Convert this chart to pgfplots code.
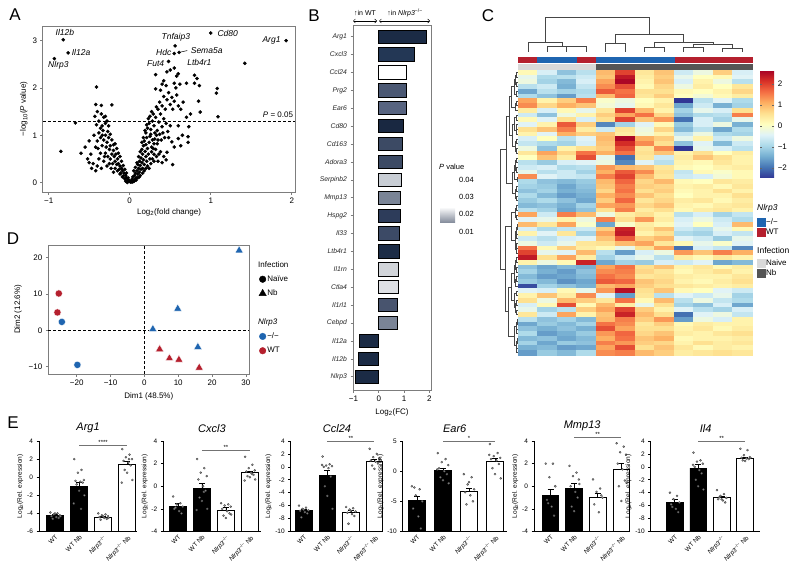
\documentclass[border=0pt]{standalone}
\usepackage{fontspec}
\setmainfont{Liberation Sans}
\usepackage{pgfplots}
\usepackage{pgfplotstable}
\pgfplotsset{compat=1.18}
\usetikzlibrary{arrows.meta}

\definecolor{myblue}{RGB}{31,101,176}
\definecolor{myred}{RGB}{181,32,46}
\definecolor{framegray}{RGB}{125,125,125}
\definecolor{naivegray}{RGB}{217,217,217}
\definecolor{nbgray}{RGB}{85,85,85}
\definecolor{dendrocol}{RGB}{70,70,70}
\definecolor{bA}{RGB}{27,43,69}
\definecolor{bB}{RGB}{35,55,85}
\definecolor{bC}{RGB}{75,88,115}
\definecolor{bD}{RGB}{88,100,128}
\definecolor{bE}{RGB}{25,40,65}
\definecolor{bF}{RGB}{60,74,100}
\definecolor{bG}{RGB}{200,205,212}
\definecolor{bH}{RGB}{122,132,150}
\definecolor{bI}{RGB}{45,60,90}
\definecolor{bJ}{RGB}{60,74,102}
\definecolor{bK}{RGB}{28,44,70}
\definecolor{bL}{RGB}{210,213,218}
\definecolor{bM}{RGB}{222,224,228}
\definecolor{bN}{RGB}{72,84,110}
\definecolor{pbot}{RGB}{135,143,158}

\newcommand{\myfs}[1]{\fontsize{#1}{#1}\selectfont}

\pgfplotsset{
  /pgf/number format/assume math mode=true,
  grayframe/.style={scale only axis, anchor=north west,
    axis line style={draw=framegray, line width=1pt},
    tick style={draw=framegray, line width=0.6pt},
    tick align=outside, major tick length=2.5pt, tick pos=left,
    ticklabel style={font=\myfs{8}, text=black},
    label style={font=\myfs{8}}},
  ebase/.style={scale only axis, anchor=south west, height=90.5pt,
    axis x line*=bottom, axis y line*=left,
    axis line style={line width=0.8pt, draw=black},
    ytick style={draw=black, line width=0.6pt}, xtick style={draw=none},
    tick align=outside, major tick length=2.5pt,
    yticklabel style={font=\myfs{6.5}},
    xtick={1,2,3,4},
    xticklabels={WT, WT Nb, \textit{Nlrp3}\textsuperscript{−/−}, \textit{Nlrp3}\textsuperscript{−/−} Nb},
    xticklabel style={rotate=45, anchor=north east, inner sep=0.5pt, font=\myfs{6.3}},
    ylabel={Log\textsubscript{2}(Rel. expression)},
    ylabel style={font=\myfs{6.5}, yshift=-3pt},
    title style={font=\myfs{11}\itshape, yshift=-1pt},
    clip=false},
  blackbar/.style={ybar, bar shift=0pt, bar width=16.5pt, fill=black, draw=black, line width=0.8pt,
    error bars/.cd, y dir=plus, y explicit, error bar style={line width=0.7pt, black}, error mark options={rotate=90, mark size=3pt, line width=0.7pt, black}},
  whitebar/.style={ybar, bar shift=0pt, bar width=16.5pt, fill=white, draw=black, line width=0.8pt,
    error bars/.cd, y dir=plus, y explicit, error bar style={line width=0.7pt, black}, error mark options={rotate=90, mark size=3pt, line width=0.7pt, black}},
  edots/.style={only marks, mark=*, mark size=1.05pt, mark options={fill=black!40, draw=black!75, line width=0.3pt}},
  sigline/.style={black!55, line width=0.8pt},
  dendro/.style={dendrocol, line width=0.45pt},
  bbar/.style={xbar, bar shift=0pt, bar width=13.3pt, draw=black, line width=0.9pt, fill=#1},
}

\pgfplotstableread{
c1 c2 c3 c4 c5 c6 c7 c8 c9 c10 c11 c12
0.2 -0.5 -1.2 -0.8 1.0 2.0 0.5 0.9 -0.6 -0.2 0.8 -0.5
-0.3 -0.9 -0.8 -0.6 0.9 2.4 0.4 0.8 -0.3 0.1 0.2 -0.4
-0.2 -1.0 -1.3 -0.5 1.2 2.6 0.3 0.9 -0.5 0.3 -0.2 -0.8
-0.8 -0.6 -1.4 -0.7 1.4 1.9 0.2 0.7 -0.2 0.4 0.1 0.5
-1.5 -0.8 -1.0 -0.9 1.8 1.6 0.6 0.6 0.2 0.1 0.3 0.7
-0.9 -1.2 -1.6 -0.8 1.0 1.7 0.5 0.8 0.1 -0.1 0.2 0.4
1.2 0.3 0.8 1.5 0.0 -0.2 0.1 0.3 -2.5 -0.8 -0.4 -0.9
1.4 0.7 1.1 0.9 -0.1 -0.3 0.2 0.5 -1.5 -0.6 -1.4 -1.0
0.4 -0.5 0.2 -0.3 0.5 2.0 1.0 0.3 -1.0 -0.3 -0.5 0.6
-0.6 -1.2 -0.2 0.3 0.8 1.2 1.6 0.7 -1.2 -0.9 -0.8 1.5
0.2 -0.4 0.6 -0.5 0.6 2.0 0.9 1.3 -2.0 -0.5 -1.0 -0.3
-0.4 0.3 1.8 0.8 -1.8 -1.0 -0.4 0.2 -1.1 -0.5 -0.2 -1.4
0.6 0.9 1.5 0.4 -0.6 0.5 -0.2 0.7 -1.3 -0.8 -1.5 -0.9
0.3 -0.4 1.1 0.8 0.9 0.4 -0.1 0.3 -0.7 -0.2 -0.9 -1.0
-0.5 0.1 -0.8 -0.4 1.0 2.6 1.1 0.8 -0.3 0.3 -0.6 -0.2
-0.7 -0.9 -1.0 -0.5 0.9 2.2 1.4 0.6 -1.2 -0.4 -1.3 -0.6
-0.2 -1.2 0.3 0.6 0.8 1.9 0.5 1.4 -2.5 -0.3 -0.5 -0.8
0.5 1.2 0.7 1.6 1.1 1.6 0.6 0.9 0.3 0.6 0.1 0.4
0.1 0.9 0.4 1.9 -0.3 -2.0 0.5 -0.6 0.4 0.9 0.6 0.3
-0.8 -1.1 -0.5 -0.4 -0.2 -1.8 -0.4 -0.8 0.3 0.2 0.5 0.3
-0.6 -0.5 -0.9 -0.8 1.3 1.0 0.9 0.5 0.2 0.1 0.3 0.4
-0.3 -0.8 -0.6 -1.0 1.1 1.8 1.4 0.6 -0.7 0.2 0.0 0.2
1.4 -0.4 -0.6 -0.7 1.5 2.0 1.0 0.5 -0.6 -0.5 -0.1 0.2
-0.9 -1.2 -1.3 -1.1 1.0 1.7 0.7 1.0 0.2 0.1 0.5 0.4
-1.0 -1.1 -1.5 -1.2 0.9 1.5 0.8 0.7 0.3 0.4 0.2 0.5
-1.2 -1.0 -1.4 -1.3 0.7 1.6 0.6 0.8 0.2 0.3 0.6 0.3
-0.9 -1.3 -1.6 -1.4 1.1 1.4 0.9 0.6 0.1 0.3 0.3 0.6
-1.1 -0.9 -1.2 -1.5 0.8 1.7 0.5 0.7 0.4 0.5 0.2 0.4
-1.3 -1.2 -1.4 -1.0 1.2 1.3 0.7 0.9 0.3 0.2 0.4 0.5
-0.8 -1.0 -1.5 -1.2 0.6 1.5 0.4 0.6 0.2 0.4 0.5 0.3
1.2 -0.6 1.5 1.0 -0.2 0.4 0.6 0.3 -0.8 -0.5 -1.0 -0.7
-0.4 -0.3 0.3 -0.2 1.5 0.6 1.3 0.4 -0.5 -0.2 -0.6 -0.9
1.0 0.5 1.2 0.0 -1.5 0.0 0.4 0.2 -0.4 0.1 -0.5 1.0
-0.5 -0.9 -0.7 -0.6 0.8 2.3 0.5 0.9 -0.6 -0.8 -0.3 0.2
0.3 -0.4 0.5 -1.0 1.2 2.4 0.3 0.6 -0.9 -1.0 -0.5 -0.7
-0.6 -0.8 -0.5 -0.4 0.9 1.8 0.8 1.0 -0.4 -0.6 -1.1 -0.3
-0.2 -0.6 -0.3 0.5 0.6 1.0 1.2 0.5 0.2 -0.3 0.0 -0.4
1.6 0.2 0.8 0.4 0.2 -0.3 0.6 1.2 -2.0 -0.5 -0.7 -1.8
2.0 -0.3 -0.4 1.0 -0.8 -1.6 -0.5 -0.2 1.3 0.9 1.5 1.1
2.4 0.6 1.2 0.4 -1.0 -0.6 -0.3 -0.8 0.4 0.2 0.5 0.3
0.3 -0.2 0.2 2.3 -1.5 -1.0 -1.1 -0.5 -0.6 -0.4 -1.5 -1.3
-1.2 -1.5 -1.3 -1.4 1.2 1.6 0.6 0.9 0.3 0.5 0.2 0.4
-1.0 -1.4 -1.6 -1.2 1.4 1.5 0.7 0.5 0.2 0.4 0.6 0.3
-1.3 -1.6 -1.5 -1.3 1.6 1.4 0.5 0.6 0.4 0.3 0.3 0.5
-1.1 -1.3 -1.7 -1.5 1.8 1.7 0.9 0.7 0.3 0.2 0.4 0.6
-2.3 -1.0 -1.2 -1.4 1.0 1.2 0.8 0.6 0.5 0.4 0.3 0.4
-0.4 -0.5 0.2 -0.3 1.3 2.5 0.6 0.9 0.2 0.1 -0.4 -0.6
0.3 0.9 0.4 1.4 -0.4 -1.6 0.5 -0.8 -0.4 -0.6 -0.3 -1.0
0.6 -0.2 1.0 0.8 0.5 1.6 0.2 1.0 -0.8 -0.2 -0.7 -0.9
-0.5 0.2 1.9 0.2 1.0 0.4 -0.3 0.6 -1.0 -1.2 -0.5 -1.5
-0.3 -1.0 -0.8 0.8 1.2 2.0 0.8 0.3 -0.4 -0.8 -1.0 -0.5
0.5 -0.6 1.2 0.3 0.9 2.3 1.0 0.6 -2.0 -0.4 -0.2 -0.7
-0.8 -1.2 -1.0 -1.3 1.0 1.5 0.8 1.3 -1.6 -0.2 -0.5 0.3
-1.5 -1.1 -1.3 -1.0 1.6 1.4 0.5 0.8 0.2 0.4 0.3 0.3
-1.2 -1.4 -1.2 -1.4 1.9 1.2 0.6 0.6 0.3 0.5 0.2 0.4
-0.9 -1.6 -1.4 -1.1 1.3 1.7 0.7 0.9 0.4 0.3 0.5 0.6
-1.3 -1.2 -1.5 -1.3 1.1 1.6 0.9 1.1 0.2 0.3 0.3 0.4
-1.0 -1.5 -1.1 -1.2 1.5 1.3 0.8 0.7 0.3 0.6 0.4 0.5
-1.4 -1.3 -1.6 -1.5 1.2 1.9 0.6 0.9 0.5 0.2 0.4 0.3
-1.6 -1.1 -1.3 -0.9 1.4 1.5 1.0 0.8 0.4 0.5 0.6 0.5
}\heatdata

\begin{document}
\begin{tikzpicture}
\path[use as bounding box] (0pt,0pt) rectangle (800pt,-570pt);

% panel letters
\node[font=\myfs{17}] at (15pt,-15pt) {A};
\node[font=\myfs{17}] at (314pt,-16pt) {B};
\node[font=\myfs{17}] at (488pt,-16pt) {C};
\node[font=\myfs{17}] at (13pt,-239pt) {D};
\node[font=\myfs{17}] at (13pt,-423pt) {E};

% ================= A =================
\begin{axis}[grayframe, at={(43pt,-26pt)}, width=252pt, height=166pt,
  xmin=-1.07, xmax=2.04, ymin=-0.2, ymax=3.31,
  xtick={-1,0,1,2}, xticklabels={−1,0,1,2}, ytick={0,1,2,3},
  xlabel={Log\textsubscript{2}(fold change)}, ylabel={−log\textsubscript{10}(\textit{P} value)},
  xlabel style={yshift=2pt}, ylabel style={yshift=-2pt}, clip=false]
\addplot[only marks, mark=*, mark size=1.6pt, black] coordinates {
(0.01,0.01)(0.02,0.04)(0.03,0.07)(0.05,0.05)(0.04,0.12)(0.06,0.15)(0.08,0.1)(0.07,0.2)(0.1,0.18)(0.09,0.25)(0.12,0.22)(0.11,0.3)(0.14,0.28)
(0.02,0.02)(0.03,0.01)(0.05,0.02)(0.06,0.04)(0.08,0.05)(-0.03,0.0)(0.0,0.03)(-0.05,0.03)(0.07,0.08)(0.04,0.03)
(0.1,0.38)(0.12,0.45)(0.13,0.36)(0.15,0.42)(0.14,0.52)(0.16,0.6)(0.17,0.48)(0.18,0.38)(0.2,0.55)(0.21,0.45)(0.19,0.66)(0.23,0.6)(0.25,0.5)(0.22,0.35)(0.26,0.4)
(0.15,0.7)(0.17,0.78)(0.18,0.88)(0.2,0.8)(0.21,0.95)(0.22,0.72)(0.24,0.85)(0.25,0.98)(0.27,0.75)(0.28,0.9)(0.3,0.82)(0.32,0.7)(0.26,1.02)(0.3,0.6)(0.35,0.9)(0.33,1.0)
(0.2,1.05)(0.22,1.15)(0.24,1.25)(0.26,1.12)(0.28,1.3)(0.3,1.2)(0.32,1.38)(0.34,1.1)(0.36,1.28)(0.38,1.45)(0.29,1.45)(0.4,1.18)(0.42,1.35)(0.35,1.55)(0.31,1.05)(0.45,1.25)
(0.33,1.6)(0.37,1.7)(0.4,1.62)(0.42,1.82)(0.44,1.55)(0.46,1.75)(0.48,1.9)(0.5,1.65)(0.52,1.8)(0.38,1.95)(0.45,2.05)(0.55,1.72)(0.58,1.85)(0.6,1.62)(0.53,1.55)
(0.32,1.98)(0.32,2.28)(0.46,2.34)(0.5,2.38)(0.55,2.42)(0.48,2.56)(0.55,2.1)(0.57,2.0)(0.62,2.08)(0.7,2.1)(0.8,2.1)(0.8,2.27)(0.83,2.2)(0.86,2.05)(1.08,1.99)(1.07,1.89)(1.09,1.39)
(0.85,1.72)(0.87,1.49)(0.75,1.45)(0.7,1.38)(0.72,0.97)(0.72,0.85)(0.73,1.18)(0.65,1.0)(0.6,0.93)(0.52,0.86)(0.53,0.38)(0.46,0.64)(0.47,1.08)(0.5,1.2)(0.6,1.2)(0.63,1.55)(0.66,1.7)
(0.42,2.15)(0.4,2.08)(0.58,2.25)(0.6,2.3)(0.38,0.65)(0.42,0.55)(0.48,0.95)(0.55,0.75)(0.63,0.78)(0.35,0.45)(0.4,0.42)(0.45,0.48)
(0.05,0.25)(0.07,0.32)(0.09,0.42)(0.11,0.55)(0.13,0.65)(0.15,0.85)(0.17,0.95)(0.19,1.1)(0.21,1.22)(0.23,1.35)(0.25,1.4)(0.27,1.5)(0.16,0.3)(0.18,0.25)(0.2,0.3)(0.24,0.3)
(0.28,0.5)(0.3,0.45)(0.33,0.55)(0.36,0.6)(0.27,0.65)(0.29,0.72)(0.31,0.92)(0.34,0.82)(0.37,1.02)(0.39,0.9)(0.41,1.05)(0.43,0.95)(0.13,0.15)(0.16,0.2)(0.1,0.1)(0.12,0.12)
(0.56,2.89)(0.55,2.73)(0.61,2.75)(1.0,3.16)(1.93,3.0)(1.42,2.52)
(-0.01,0.02)(-0.02,0.06)(-0.03,0.03)(-0.04,0.1)(-0.05,0.15)(-0.06,0.08)(-0.07,0.2)(-0.08,0.14)(-0.09,0.25)(-0.1,0.3)(-0.11,0.2)(-0.12,0.35)(-0.13,0.28)(-0.14,0.4)
(-0.15,0.5)(-0.16,0.38)(-0.17,0.6)(-0.18,0.45)(-0.19,0.55)(-0.2,0.68)(-0.21,0.4)(-0.22,0.6)(-0.24,0.5)(-0.25,0.7)(-0.27,0.55)(-0.28,0.35)(-0.3,0.62)(-0.32,0.45)(-0.35,0.3)(-0.38,0.5)(-0.4,0.35)(-0.42,0.25)(-0.45,0.4)(-0.47,0.3)(-0.5,0.42)(-0.52,0.5)(-0.48,0.6)
(-0.2,0.8)(-0.22,0.9)(-0.24,0.78)(-0.26,0.95)(-0.28,0.85)(-0.3,1.0)(-0.32,0.9)(-0.34,0.78)(-0.36,0.95)(-0.38,1.05)(-0.4,0.88)(-0.42,0.75)(-0.44,1.0)(-0.27,1.08)(-0.33,1.1)(-0.55,0.75)(-0.5,0.88)
(-0.26,1.2)(-0.28,1.3)(-0.3,1.25)(-0.32,1.38)(-0.34,1.2)(-0.36,1.15)(-0.38,1.3)(-0.41,1.22)(-0.43,1.4)(-0.4,1.5)(-0.35,1.45)(-0.42,1.65)(-0.35,1.63)(-0.22,1.64)(-0.41,2.02)(-0.67,1.26)(-0.85,0.66)(-0.6,0.62)(-0.3,1.4)
(-0.02,0.1)(-0.04,0.2)(-0.06,0.28)(-0.08,0.36)(-0.1,0.45)(-0.12,0.55)(-0.14,0.62)(-0.16,0.72)(-0.18,0.82)(-0.09,0.12)(-0.12,0.18)(-0.15,0.25)(-0.18,0.3)(-0.2,0.22)(-0.23,0.3)(-0.25,0.4)(-0.29,0.75)(-0.31,0.55)(-0.36,0.62)(-0.39,0.72)(-0.34,1.0)(-0.24,1.02)
(-0.82,3.02)(-0.76,2.74)(-0.93,2.62)
};
\addplot[black, line width=0.8pt, dash pattern=on 3pt off 2pt] coordinates {(-1.07,1.301)(2.04,1.301)};
\addplot[black, line width=0.5pt] coordinates {(0.63,2.76)(0.71,2.79)};
\begin{scope}[every node/.style={font=\myfs{8.5}\itshape, inner sep=0pt}]
\node at (axis cs:-0.8,3.17) {Il12b};
\node at (axis cs:-0.6,2.75) {Il12a};
\node at (axis cs:-0.88,2.48) {Nlrp3};
\node at (axis cs:0.57,3.07) {Tnfaip3};
\node at (axis cs:0.42,2.76) {Hdc};
\node at (axis cs:0.95,2.79) {Sema5a};
\node at (axis cs:0.32,2.52) {Fut4};
\node at (axis cs:0.86,2.53) {Ltb4r1};
\node at (axis cs:1.21,3.16) {Cd80};
\node at (axis cs:1.75,3.0) {Arg1};
\end{scope}
\node[font=\myfs{8}, inner sep=0pt] at (axis cs:1.83,1.44) {\textit{P} = 0.05};
\end{axis}

% ================= B =================
\node[font=\myfs{7}, inner sep=0pt] at (365pt,-13pt) {↑in WT};
\node[font=\myfs{7}, inner sep=0pt] at (405pt,-13pt) {↑in \textit{Nlrp3}\textsuperscript{−/−}};
\draw[{Straight Barb[length=2pt]}-{Straight Barb[length=2pt]}, line width=0.5pt] (353pt,-21pt)--(377pt,-21pt);
\draw[{Straight Barb[length=2pt]}-{Straight Barb[length=2pt]}, line width=0.5pt] (379pt,-21pt)--(430pt,-21pt);
\begin{axis}[grayframe, at={(353pt,-25pt)}, width=78pt, height=365pt,
  xmin=-1.02, xmax=2.07, ymin=-0.65, ymax=19.74, y dir=reverse,
  xtick={-1,0,1,2}, xticklabels={−1,0,1,2},
  ytick={0,...,19},
  yticklabels={Arg1,Cxcl3,Ccl24,Prg2,Ear6,Cd80,Cd163,Adora3,Serpinb2,Mmp13,Hspg2,Il33,Ltb4r1,Il1rn,Ctla4,Il1rl1,Cebpd,Il12a,Il12b,Nlrp3},
  yticklabel style={font=\myfs{6.8}\itshape, text=black!85},
  xlabel={Log\textsubscript{2}(FC)}]
\addplot[bbar=bA] coordinates {(1.89,0)};
\addplot[bbar=bB] coordinates {(1.41,1)};
\addplot[bbar=white] coordinates {(1.11,2)};
\addplot[bbar=bC] coordinates {(1.10,3)};
\addplot[bbar=bD] coordinates {(1.08,4)};
\addplot[bbar=bE] coordinates {(0.99,5)};
\addplot[bbar=bF] coordinates {(0.92,6)};
\addplot[bbar=bF] coordinates {(0.92,7)};
\addplot[bbar=bG] coordinates {(0.88,8)};
\addplot[bbar=bH] coordinates {(0.86,9)};
\addplot[bbar=bI] coordinates {(0.85,10)};
\addplot[bbar=bJ] coordinates {(0.82,11)};
\addplot[bbar=bK] coordinates {(0.82,12)};
\addplot[bbar=bL] coordinates {(0.77,13)};
\addplot[bbar=bM] coordinates {(0.77,14)};
\addplot[bbar=bN] coordinates {(0.73,15)};
\addplot[bbar=bH] coordinates {(0.73,16)};
\addplot[bbar=bA] coordinates {(-0.76,17)};
\addplot[bbar=bA] coordinates {(-0.81,18)};
\addplot[bbar=bA] coordinates {(-0.92,19)};
\end{axis}
% P value legend
\node[font=\myfs{7.5}, anchor=west, inner sep=0pt] at (439pt,-167pt) {\textit{P} value};
\shade[top color=white, bottom color=pbot] (440pt,-207pt) rectangle (455pt,-222pt);
\begin{scope}[every node/.style={font=\myfs{7.5}, anchor=west, inner sep=0pt}]
\node at (459pt,-180pt) {0.04};
\node at (459pt,-197pt) {0.03};
\node at (459pt,-214pt) {0.02};
\node at (459pt,-232pt) {0.01};
\end{scope}

% ================= C =================
\begin{axis}[scale only axis, anchor=south west, at={(518pt,-51.7pt)}, width=233.7pt, height=34.4pt,
  xmin=0.5, xmax=12.5, ymin=0, ymax=34.4, hide axis, clip=false]
\foreach \xa/\ha/\xb/\hb/\H in {3/0/4/0/5.0, 2/0/3.5/5/5.8, 1/0/2.75/5.8/9.2, 5/0/6/0/8.2, 7/0/8/0/4.0, 9/0/10/0/4.2, 11/0/12/0/3.8, 9.5/4.2/11.5/3.8/7.8, 7.5/4/10.5/7.8/9.2, 5.5/8.2/9/9.2/17.4, 1.875/9.2/7.25/17.4/34.4}{
  \edef\tmp{\noexpand\addplot[dendro] coordinates {(\xa,\ha) (\xa,\H) (\xb,\H) (\xb,\hb)};}\tmp
}
\end{axis}
\begin{axis}[scale only axis, anchor=north west, at={(500pt,-70pt)}, width=17.5pt, height=285pt,
  xmin=0, xmax=10.3, x dir=reverse, ymin=0.5, ymax=60.5, y dir=reverse, hide axis, clip=false]
\foreach \ya/\ha/\yb/\hb/\H in {
1/0/2/0/0.6, 3/0/4/0/0.8, 5/0/6/0/0.5, 1.5/0.6/3.5/0.8/1.5, 2.5/1.5/5.5/0.5/2.2,
7/0/8/0/0.7, 7.5/0.7/9/0/1.3,
10/0/11/0/0.5, 12/0/13/0/0.6, 12.5/0.6/14/0/1.0, 10.5/0.5/13.25/1.0/1.8,
15/0/16/0/0.6, 17/0/18/0/0.7, 15.5/0.6/17.5/0.7/1.4,
19/0/20/0/0.5, 21/0/22/0/0.6, 23/0/24/0/0.4, 19.5/0.5/21.5/0.6/1.1, 20.5/1.1/23.5/0.4/1.9,
25/0/26/0/0.7, 27/0/28/0/0.5, 25.5/0.7/27.5/0.5/1.5,
29/0/30/0/0.5, 31/0/32/0/0.6, 29.5/0.5/31.5/0.6/1.2,
33/0/34/0/0.4, 35/0/36/0/0.5, 37/0/38/0/0.5, 37.5/0.5/39/0/0.9, 33.5/0.4/35.5/0.5/1.0, 34.5/1.0/38.25/0.9/1.6,
40/0/41/0/0.6, 42/0/43/0/0.5, 44/0/45/0/0.7, 44.5/0.7/46/0/1.1, 40.5/0.6/42.5/0.5/1.2, 41.5/1.2/45.25/1.1/2.0,
47/0/48/0/0.8, 49/0/50/0/0.6, 51/0/52/0/0.5, 49.5/0.6/51.5/0.5/1.2, 47.5/0.8/50.5/1.2/2.1,
53/0/54/0/0.4, 55/0/56/0/0.5, 57/0/58/0/0.4, 59/0/60/0/0.5, 53.5/0.4/55.5/0.5/1.0, 57.5/0.4/59.5/0.5/1.0, 54.5/1.0/58.5/1.0/1.7,
4/2.2/8.25/1.3/3.5, 11.875/1.8/16.5/1.4/3.0, 6.125/3.5/14.1875/3.0/5, 22/1.9/26.5/1.5/3.2,
10.15625/5/24.25/3.2/6.5, 30.5/1.2/36.375/1.6/3.8, 43.375/2.0/49/2.1/3.6, 46.1875/3.6/56.5/1.7/5.2,
33.4375/3.8/51.34375/5.2/7.5, 17.203/6.5/42.39/7.5/10}{
  \edef\tmp{\noexpand\addplot[dendro] coordinates {(\ha,\ya) (\H,\ya) (\H,\yb) (\hb,\yb)};}\tmp
}
\end{axis}
\begin{axis}[scale only axis, anchor=north west, at={(518pt,-70pt)}, width=233.7pt, height=285pt,
  xmin=0.5, xmax=12.5, ymin=0.5, ymax=60.5, y dir=reverse, clip=false,
  axis line style={draw=none}, xtick=\empty, ytick=\empty,
  colormap={rdylbu}{rgb255=(49,54,149) rgb255=(69,117,180) rgb255=(116,173,209) rgb255=(171,217,233) rgb255=(224,243,248) rgb255=(255,255,191) rgb255=(254,224,144) rgb255=(253,174,97) rgb255=(244,109,67) rgb255=(215,48,39) rgb255=(165,0,38)},
  point meta min=-2.48, point meta max=2.67,
  colorbar,
  colorbar style={at={([xshift=8.3pt,yshift=-2pt]parent axis.north east)}, anchor=north west,
    width=14pt, height=108pt, scale only axis,
    axis line style={draw=none},
    ytick={-2,-1,0,1,2}, yticklabels={−2,−1,0,1,2},
    yticklabel style={font=\myfs{8}},
    major tick length=2pt, tick style={draw=black!60}},
  legend style={at={(1.0227,0.483)}, anchor=north west, draw=none, fill=none, font=\myfs{8},
    row sep=1.8pt, inner sep=0pt, nodes={inner sep=0.5pt, text height=6pt, text depth=1.5pt}},
  legend cell align=left]
\pgfplotsinvokeforeach{1,...,12}{
  \addplot[scatter, only marks, mark=square*, mark size=2.45pt, mark options={xscale=4.0, line width=0.1pt},
    scatter/use mapped color={draw=mapped color, fill=mapped color}, point meta=explicit, forget plot]
    table[x expr=#1, y expr=\coordindex+1, meta=c#1] {\heatdata};
}
\addplot[only marks, mark=square*, mark size=2.75pt, mark options={xscale=3.54, fill=myred, draw=myred, line width=0.1pt}, forget plot]
  coordinates {(1,-1.658)(4,-1.658)(9,-1.658)(10,-1.658)(11,-1.658)(12,-1.658)};
\addplot[only marks, mark=square*, mark size=2.75pt, mark options={xscale=3.54, fill=myblue, draw=myblue, line width=0.1pt}, forget plot]
  coordinates {(2,-1.658)(3,-1.658)(5,-1.658)(6,-1.658)(7,-1.658)(8,-1.658)};
\addplot[only marks, mark=square*, mark size=2.75pt, mark options={xscale=3.54, fill=naivegray, draw=naivegray, line width=0.1pt}, forget plot]
  coordinates {(1,-0.184)(2,-0.184)(3,-0.184)(4,-0.184)};
\addplot[only marks, mark=square*, mark size=2.75pt, mark options={xscale=3.54, fill=nbgray, draw=nbgray, line width=0.1pt}, forget plot]
  coordinates {(5,-0.184)(6,-0.184)(7,-0.184)(8,-0.184)(9,-0.184)(10,-0.184)(11,-0.184)(12,-0.184)};
\addlegendimage{legend image code/.code={\fill[myblue] (0pt,-4pt) rectangle (8pt,4pt);}}
\addlegendentry{−/−}
\addlegendimage{legend image code/.code={\fill[myred] (0pt,-4pt) rectangle (8pt,4pt);}}
\addlegendentry{WT}
\addlegendimage{empty legend}
\addlegendentry{}
\addlegendimage{empty legend}
\addlegendentry{}
\addlegendimage{legend image code/.code={\fill[naivegray] (0pt,-4pt) rectangle (8pt,4pt);}}
\addlegendentry{Naive}
\addlegendimage{legend image code/.code={\fill[nbgray] (0pt,-4pt) rectangle (8pt,4pt);}}
\addlegendentry{Nb}
\end{axis}
\node[font=\myfs{8.5}\itshape, anchor=west, inner sep=0pt] at (757pt,-208.5pt) {Nlrp3};
\node[font=\myfs{8.5}, anchor=west, inner sep=0pt] at (757pt,-250pt) {Infection};

% ================= D =================
\begin{axis}[grayframe, at={(48.3pt,-245pt)}, width=201pt, height=129pt,
  xmin=-28.4, xmax=31, ymin=-12, ymax=23.4,
  xtick={-20,-10,0,10,20,30}, xticklabels={−20,−10,0,10,20,30},
  ytick={-10,0,10,20}, yticklabels={−10,0,10,20},
  xlabel={Dim1 (48.5\%)}, ylabel={Dim2 (12.6\%)}, clip=false,
  legend style={at={(1.023,0.773)}, anchor=north west, draw=none, fill=none, font=\myfs{8},
    row sep=4.8pt, inner sep=0pt, nodes={inner sep=1pt, text height=6pt, text depth=1.5pt}},
  legend cell align=left]
\addplot[black, line width=0.8pt, dash pattern=on 3pt off 2pt, forget plot] coordinates {(-28.4,0)(31,0)};
\addplot[black, line width=0.8pt, dash pattern=on 3pt off 2pt, forget plot] coordinates {(0,-12)(0,23.4)};
\addplot[only marks, mark=*, mark size=3.6pt, mark options={fill=myred, draw=white, line width=0.3pt}, forget plot]
  coordinates {(-25.3,10.1)(-25.7,4.9)};
\addplot[only marks, mark=*, mark size=3.6pt, mark options={fill=myblue, draw=white, line width=0.3pt}, forget plot]
  coordinates {(-24.4,2.3)(-19.8,-9.5)};
\addplot[only marks, mark=triangle*, mark size=4.6pt, mark options={fill=myblue, draw=white, line width=0.3pt}, forget plot]
  coordinates {(28.0,21.9)(9.85,5.9)(2.5,0.3)(15.8,-4.6)};
\addplot[only marks, mark=triangle*, mark size=4.6pt, mark options={fill=myred, draw=white, line width=0.3pt}, forget plot]
  coordinates {(4.5,-5.2)(7.4,-7.7)(10.2,-8.1)(16.2,-10.3)};
\addlegendimage{only marks, mark=*, mark size=3.3pt, black}
\addlegendentry{Naïve}
\addlegendimage{only marks, mark=triangle*, mark size=4.2pt, black}
\addlegendentry{Nb}
\addlegendimage{empty legend}
\addlegendentry{}
\addlegendimage{empty legend}
\addlegendentry{}
\addlegendimage{only marks, mark=*, mark size=3.3pt, myblue}
\addlegendentry{−/−}
\addlegendimage{only marks, mark=*, mark size=3.3pt, myred}
\addlegendentry{WT}
\end{axis}
\node[font=\myfs{8}, anchor=west, inner sep=0pt] at (258pt,-265pt) {Infection};
\node[font=\myfs{8}\itshape, anchor=west, inner sep=0pt] at (258pt,-322pt) {Nlrp3};

% ================= E =================
\begin{axis}[ebase, at={(39pt,-531.5pt)}, width=98.2pt, xmin=0.33, xmax=4.42,
  ymin=0, ymax=10, ytick={0,2,...,10}, yticklabels={-6,-4,-2,0,2,4},
  y filter/.expression={y+6}, title={Arg1}]
\addplot[blackbar] coordinates {(1,-4.2) +- (0,0.15) (2,-1.0) +- (0,0.45)};
\addplot[whitebar] coordinates {(3,-4.4) +- (0,0.1) (4,1.4) +- (0,0.35)};
\addplot[edots] coordinates {(0.8,-3.9)(1.1,-4.0)(0.95,-4.1)(1.2,-4.2)(0.85,-4.3)(1.05,-4.4)(1.15,-4.5)(0.9,-4.6)(1.0,-4.0)(1.22,-4.3)
(1.8,2.0)(2.1,0.8)(1.95,0.5)(2.2,-0.3)(1.85,-0.4)(2.05,-0.5)(2.15,-0.6)(1.9,-0.8)(2.0,-1.5)(2.22,-2.0)(1.78,-2.9)(2.08,-3.5)
(2.8,-4.0)(3.1,-4.1)(2.95,-4.2)(3.2,-4.3)(2.85,-4.4)(3.05,-4.5)(3.15,-4.6)(2.9,-4.7)(3.0,-4.3)(3.22,-4.5)
(3.8,3.1)(4.1,2.5)(3.95,2.2)(4.2,2.0)(3.85,1.8)(4.05,1.6)(4.15,1.3)(3.9,0.8)(4.0,0.5)(4.22,-0.3)(3.78,-0.6)(4.08,2.0)};
\addplot[sigline] coordinates {(2,3.56)(4,3.56)};
\node[font=\myfs{6}, anchor=south, inner sep=0.5pt] at (axis cs:3,9.56) {****};
\end{axis}
\begin{axis}[ebase, at={(163.3pt,-531.5pt)}, width=97.4pt, xmin=0.39, xmax=4.45,
  ymin=0, ymax=8, ytick={0,2,...,8}, yticklabels={-4,-2,0,2,4},
  y filter/.expression={y+4}, title={Cxcl3}]
\addplot[blackbar] coordinates {(1,-1.8) +- (0,0.25) (2,-0.2) +- (0,0.45)};
\addplot[whitebar] coordinates {(3,-2.1) +- (0,0.2) (4,1.2) +- (0,0.15)};
\addplot[edots] coordinates {(0.8,-0.9)(1.1,-1.5)(0.95,-1.6)(1.2,-1.8)(0.85,-2.0)(1.05,-2.2)(1.15,-2.4)(0.9,-1.9)
(1.8,2.4)(2.1,1.6)(1.95,1.2)(2.2,0.9)(1.85,0.6)(2.05,0)(2.15,-0.4)(1.9,-1.0)(2.0,-1.3)(2.22,-2.0)(1.78,-2.1)(2.08,-0.5)
(2.8,-1.5)(3.1,-1.6)(2.95,-1.7)(3.2,-1.8)(2.85,-2.0)(3.05,-2.2)(3.15,-2.4)(2.9,-2.6)(3.0,-2.8)(3.22,-2.5)
(3.8,2.6)(4.1,1.9)(3.95,1.6)(4.2,1.4)(3.85,1.3)(4.05,1.2)(4.15,1.0)(3.9,0.9)(4.0,0.8)(4.22,0.6)(3.78,0.5)(4.08,1.1)};
\addplot[sigline] coordinates {(2,3.2)(4,3.2)};
\node[font=\myfs{6}, anchor=south, inner sep=0.5pt] at (axis cs:3,7.2) {**};
\end{axis}
\begin{axis}[ebase, at={(290.7pt,-531.5pt)}, width=92.7pt, xmin=0.45, xmax=4.38,
  ymin=0, ymax=14, ytick={0,2,...,14}, yticklabels={-10,-8,-6,-4,-2,0,2,4},
  y filter/.expression={y+10}, title={Ccl24}]
\addplot[blackbar] coordinates {(1,-6.7) +- (0,0.2) (2,-1.3) +- (0,0.7)};
\addplot[whitebar] coordinates {(3,-7.0) +- (0,0.3) (4,0.9) +- (0,0.25)};
\addplot[edots] coordinates {(0.8,-6.0)(1.1,-6.3)(0.95,-6.5)(1.2,-6.7)(0.85,-6.8)(1.05,-7.0)(1.15,-7.2)(0.9,-7.8)(1.0,-6.6)
(1.8,1.6)(2.1,0.4)(1.95,0.2)(2.2,0.1)(1.85,0)(2.05,-0.2)(2.15,-1.5)(1.9,-3.0)(2.0,-4.5)(2.22,-6.5)(1.78,0.3)
(2.8,-6.2)(3.1,-6.4)(2.95,-6.6)(3.2,-6.9)(2.85,-7.1)(3.05,-7.3)(3.15,-7.6)(2.9,-8.8)(3.0,-6.8)
(3.8,2.8)(4.1,2.0)(3.95,1.5)(4.2,1.2)(3.85,1.0)(4.05,0.8)(4.15,0.6)(3.9,0.2)(4.0,-0.3)(4.22,1.3)};
\addplot[sigline] coordinates {(2,3.9)(4,3.9)};
\node[font=\myfs{6}, anchor=south, inner sep=0.5pt] at (axis cs:3,13.9) {**};
\end{axis}
\begin{axis}[ebase, at={(402.7pt,-531.5pt)}, width=104pt, xmin=0.45, xmax=4.45,
  ymin=0, ymax=15, ytick={0,5,10,15}, yticklabels={-10,-5,0,5},
  y filter/.expression={y+10}, title={Ear6}]
\addplot[blackbar] coordinates {(1,-4.9) +- (0,0.8) (2,0.1) +- (0,0.45)};
\addplot[whitebar] coordinates {(3,-3.3) +- (0,0.5) (4,1.7) +- (0,0.5)};
\addplot[edots] coordinates {(0.8,-2.5)(1.1,-3.0)(0.95,-4.0)(1.2,-5.0)(0.85,-6.2)(1.05,-7.5)(1.15,-9.5)(0.9,-2.7)
(1.8,3.0)(2.1,2.0)(1.95,1.5)(2.2,1.0)(1.85,0.5)(2.05,0)(2.15,-0.5)(1.9,-1.0)(2.0,-1.5)(2.22,-2.0)(1.78,0.3)
(2.8,-0.5)(3.1,-1.0)(2.95,-2.2)(3.2,-3.0)(2.85,-3.5)(3.05,-4.0)(3.15,-5.0)(2.9,-5.5)(3.0,-1.8)
(3.8,4.5)(4.1,3.0)(3.95,2.5)(4.2,2.2)(3.85,2.0)(4.05,1.8)(4.15,1.2)(3.9,0.5)(4.0,-0.5)(4.22,-1.2)(3.78,2.7)};
\addplot[sigline] coordinates {(2,5.0)(4,5.0)};
\node[font=\myfs{6}, anchor=south, inner sep=0.5pt] at (axis cs:3,15.0) {*};
\end{axis}
\begin{axis}[ebase, at={(534pt,-531.5pt)}, width=96.3pt, xmin=0.3, xmax=4.38,
  ymin=0, ymax=8, ytick={0,2,...,8}, yticklabels={-4,-2,0,2,4},
  y filter/.expression={y+4}, title={Mmp13}, title style={yshift=2pt}]
\addplot[blackbar] coordinates {(1,-0.8) +- (0,0.5) (2,-0.2) +- (0,0.45)};
\addplot[whitebar] coordinates {(3,-1.0) +- (0,0.35) (4,1.5) +- (0,0.5)};
\addplot[edots] coordinates {(0.8,2.0)(1.1,2.0)(0.95,0.8)(1.2,0)(0.85,-1.2)(1.05,-1.8)(1.15,-2.6)(0.9,-1.5)
(1.8,1.8)(2.1,1.2)(1.95,0.9)(2.2,0.6)(1.85,0)(2.05,-0.5)(2.15,-1.0)(1.9,-1.8)(2.0,-2.2)(2.22,0.2)
(2.8,0.6)(3.1,-0.2)(2.95,-0.5)(3.2,-1.0)(2.85,-1.6)(3.05,-2.3)(3.15,-0.8)
(3.8,3.8)(4.1,3.5)(3.95,3.0)(4.2,2.8)(3.85,2.0)(4.05,1.5)(4.15,0.5)(3.9,0)(4.0,-1.3)(4.22,0.3)};
\addplot[sigline] coordinates {(2,4.3)(4,4.3)};
\node[font=\myfs{6}, anchor=south, inner sep=0.5pt] at (axis cs:3,8.3) {**};
\end{axis}
\begin{axis}[ebase, at={(650.7pt,-531.5pt)}, width=109.7pt, xmin=-0.02, xmax=4.65,
  ymin=0, ymax=14, ytick={0,2,...,14}, yticklabels={-10,-8,-6,-4,-2,0,2,4},
  y filter/.expression={y+10}, title={Il4}]
\addplot[blackbar] coordinates {(1,-5.5) +- (0,0.4) (2,-0.2) +- (0,0.6)};
\addplot[whitebar] coordinates {(3,-4.8) +- (0,0.2) (4,1.3) +- (0,0.15)};
\addplot[edots] coordinates {(0.8,-4.0)(1.1,-4.5)(0.95,-5.0)(1.2,-5.5)(0.85,-5.8)(1.05,-6.5)(1.15,-7.0)(0.9,-6.2)
(1.8,2.2)(2.1,1.0)(1.95,0.8)(2.2,0.5)(1.85,0)(2.05,-0.5)(2.15,-1.0)(1.9,-2.0)(2.0,-3.0)(2.22,-3.5)(1.78,0.3)
(2.8,-3.6)(3.1,-4.2)(2.95,-4.5)(3.2,-4.8)(2.85,-5.0)(3.05,-5.2)(3.15,-5.5)(2.9,-4.7)(3.0,-5.0)
(3.8,2.8)(4.1,2.6)(3.95,1.8)(4.2,1.5)(3.85,1.4)(4.05,1.3)(4.15,1.2)(3.9,1.0)(4.0,0.9)(4.22,1.4)};
\addplot[sigline] coordinates {(2,4.0)(4,4.0)};
\node[font=\myfs{6}, anchor=south, inner sep=0.5pt] at (axis cs:3,14.0) {**};
\end{axis}
\end{tikzpicture}
\end{document}
